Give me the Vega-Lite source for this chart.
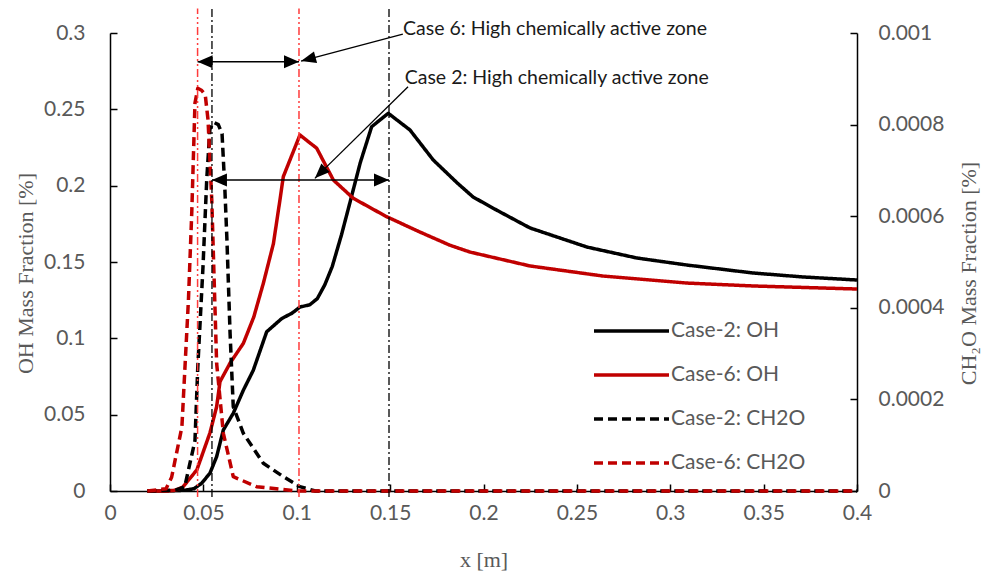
{
  "$schema": "https://vega.github.io/schema/vega-lite/v6.json",
  "width": 747,
  "height": 458,
  "autosize": {"type": "none"},
  "padding": {"left": 110, "top": 33, "right": 125, "bottom": 81},
  "background": "white",
  "datasets": {
    "oh": [
      {"series": "Case-2: OH", "x": 0.02, "y": 0},
      {"series": "Case-2: OH", "x": 0.03, "y": 0},
      {"series": "Case-2: OH", "x": 0.04, "y": 0.0005},
      {"series": "Case-2: OH", "x": 0.045, "y": 0.0015},
      {"series": "Case-2: OH", "x": 0.049, "y": 0.005},
      {"series": "Case-2: OH", "x": 0.0535, "y": 0.0116},
      {"series": "Case-2: OH", "x": 0.0571, "y": 0.0225},
      {"series": "Case-2: OH", "x": 0.0607, "y": 0.04},
      {"series": "Case-2: OH", "x": 0.066, "y": 0.0509},
      {"series": "Case-2: OH", "x": 0.0714, "y": 0.066},
      {"series": "Case-2: OH", "x": 0.0767, "y": 0.079},
      {"series": "Case-2: OH", "x": 0.0839, "y": 0.1043},
      {"series": "Case-2: OH", "x": 0.092, "y": 0.113},
      {"series": "Case-2: OH", "x": 0.0975, "y": 0.1165},
      {"series": "Case-2: OH", "x": 0.1017, "y": 0.1205},
      {"series": "Case-2: OH", "x": 0.107, "y": 0.122},
      {"series": "Case-2: OH", "x": 0.111, "y": 0.126},
      {"series": "Case-2: OH", "x": 0.115, "y": 0.135},
      {"series": "Case-2: OH", "x": 0.119, "y": 0.147},
      {"series": "Case-2: OH", "x": 0.124, "y": 0.168},
      {"series": "Case-2: OH", "x": 0.1285, "y": 0.189},
      {"series": "Case-2: OH", "x": 0.134, "y": 0.215},
      {"series": "Case-2: OH", "x": 0.1401, "y": 0.2386},
      {"series": "Case-2: OH", "x": 0.149, "y": 0.2474},
      {"series": "Case-2: OH", "x": 0.1606, "y": 0.2365},
      {"series": "Case-2: OH", "x": 0.1731, "y": 0.2168},
      {"series": "Case-2: OH", "x": 0.186, "y": 0.2017},
      {"series": "Case-2: OH", "x": 0.1944, "y": 0.1926},
      {"series": "Case-2: OH", "x": 0.207, "y": 0.184},
      {"series": "Case-2: OH", "x": 0.2249, "y": 0.1723},
      {"series": "Case-2: OH", "x": 0.2554, "y": 0.1598},
      {"series": "Case-2: OH", "x": 0.2822, "y": 0.1526},
      {"series": "Case-2: OH", "x": 0.309, "y": 0.148},
      {"series": "Case-2: OH", "x": 0.3443, "y": 0.1428},
      {"series": "Case-2: OH", "x": 0.3711, "y": 0.1402},
      {"series": "Case-2: OH", "x": 0.4, "y": 0.1382},
      {"series": "Case-6: OH", "x": 0.02, "y": 0},
      {"series": "Case-6: OH", "x": 0.03, "y": 0},
      {"series": "Case-6: OH", "x": 0.035, "y": 0.0005},
      {"series": "Case-6: OH", "x": 0.039, "y": 0.0026},
      {"series": "Case-6: OH", "x": 0.0465, "y": 0.0138},
      {"series": "Case-6: OH", "x": 0.0535, "y": 0.038},
      {"series": "Case-6: OH", "x": 0.0571, "y": 0.0552},
      {"series": "Case-6: OH", "x": 0.0589, "y": 0.0716},
      {"series": "Case-6: OH", "x": 0.0643, "y": 0.0838},
      {"series": "Case-6: OH", "x": 0.0714, "y": 0.0967},
      {"series": "Case-6: OH", "x": 0.077, "y": 0.114},
      {"series": "Case-6: OH", "x": 0.0821, "y": 0.136},
      {"series": "Case-6: OH", "x": 0.0875, "y": 0.162},
      {"series": "Case-6: OH", "x": 0.091, "y": 0.1906},
      {"series": "Case-6: OH", "x": 0.0928, "y": 0.2059},
      {"series": "Case-6: OH", "x": 0.1017, "y": 0.2332},
      {"series": "Case-6: OH", "x": 0.1107, "y": 0.2245},
      {"series": "Case-6: OH", "x": 0.1196, "y": 0.2037},
      {"series": "Case-6: OH", "x": 0.1303, "y": 0.1917},
      {"series": "Case-6: OH", "x": 0.1481, "y": 0.1797},
      {"series": "Case-6: OH", "x": 0.166, "y": 0.1696},
      {"series": "Case-6: OH", "x": 0.182, "y": 0.161},
      {"series": "Case-6: OH", "x": 0.1928, "y": 0.1565},
      {"series": "Case-6: OH", "x": 0.2249, "y": 0.1474},
      {"series": "Case-6: OH", "x": 0.264, "y": 0.1408},
      {"series": "Case-6: OH", "x": 0.309, "y": 0.1362},
      {"series": "Case-6: OH", "x": 0.3443, "y": 0.1343},
      {"series": "Case-6: OH", "x": 0.4, "y": 0.1323}
    ],
    "ch2o": [
      {"series": "Case-2: CH2O", "x": 0.02, "y": 0},
      {"series": "Case-2: CH2O", "x": 0.035, "y": 0.000002},
      {"series": "Case-2: CH2O", "x": 0.04, "y": 0.000009},
      {"series": "Case-2: CH2O", "x": 0.0455, "y": 0.00011},
      {"series": "Case-2: CH2O", "x": 0.047, "y": 0.00027},
      {"series": "Case-2: CH2O", "x": 0.0498, "y": 0.00049},
      {"series": "Case-2: CH2O", "x": 0.0518, "y": 0.00068},
      {"series": "Case-2: CH2O", "x": 0.0535, "y": 0.00079},
      {"series": "Case-2: CH2O", "x": 0.0555, "y": 0.000805},
      {"series": "Case-2: CH2O", "x": 0.058, "y": 0.0008},
      {"series": "Case-2: CH2O", "x": 0.06, "y": 0.00078},
      {"series": "Case-2: CH2O", "x": 0.0615, "y": 0.00066},
      {"series": "Case-2: CH2O", "x": 0.0626, "y": 0.00055},
      {"series": "Case-2: CH2O", "x": 0.0643, "y": 0.000344},
      {"series": "Case-2: CH2O", "x": 0.066, "y": 0.000184},
      {"series": "Case-2: CH2O", "x": 0.0714, "y": 0.000126},
      {"series": "Case-2: CH2O", "x": 0.0821, "y": 0.0000605},
      {"series": "Case-2: CH2O", "x": 0.0928, "y": 0.0000313},
      {"series": "Case-2: CH2O", "x": 0.1017, "y": 0.0000095},
      {"series": "Case-2: CH2O", "x": 0.11, "y": 0},
      {"series": "Case-2: CH2O", "x": 0.4, "y": 0},
      {"series": "Case-6: CH2O", "x": 0.02, "y": 0},
      {"series": "Case-6: CH2O", "x": 0.03, "y": 0.000005},
      {"series": "Case-6: CH2O", "x": 0.033, "y": 0.00003},
      {"series": "Case-6: CH2O", "x": 0.0385, "y": 0.00014},
      {"series": "Case-6: CH2O", "x": 0.042, "y": 0.000417},
      {"series": "Case-6: CH2O", "x": 0.0438, "y": 0.00061},
      {"series": "Case-6: CH2O", "x": 0.0455, "y": 0.000847},
      {"series": "Case-6: CH2O", "x": 0.047, "y": 0.000879},
      {"series": "Case-6: CH2O", "x": 0.049, "y": 0.000875},
      {"series": "Case-6: CH2O", "x": 0.051, "y": 0.000865},
      {"series": "Case-6: CH2O", "x": 0.0525, "y": 0.00081},
      {"series": "Case-6: CH2O", "x": 0.0545, "y": 0.000635},
      {"series": "Case-6: CH2O", "x": 0.0571, "y": 0.000279},
      {"series": "Case-6: CH2O", "x": 0.0607, "y": 0.000126},
      {"series": "Case-6: CH2O", "x": 0.066, "y": 0.0000313},
      {"series": "Case-6: CH2O", "x": 0.0785, "y": 0.0000095},
      {"series": "Case-6: CH2O", "x": 0.1, "y": 0},
      {"series": "Case-6: CH2O", "x": 0.4, "y": 0}
    ],
    "vlines": [
      {"case": "Case 6", "x": 0.0469, "y1": -0.004, "y2": 0.316},
      {"case": "Case 6", "x": 0.1012, "y1": -0.004, "y2": 0.316},
      {"case": "Case 2", "x": 0.0546, "y1": -0.004, "y2": 0.316},
      {"case": "Case 2", "x": 0.1494, "y1": -0.004, "y2": 0.316}
    ],
    "harrows": [
      {"case": "Case 6", "x1": 0.0469, "x2": 0.1012, "y": 0.2812},
      {"case": "Case 2", "x1": 0.0546, "x2": 0.1494, "y": 0.2037}
    ],
    "leaders": [
      {"case": "Case 6", "x1": 0.1568, "y1": 0.2993, "x2": 0.1023, "y2": 0.2816},
      {"case": "Case 2", "x1": 0.1596, "y1": 0.2648, "x2": 0.1097, "y2": 0.2048}
    ],
    "notes": [
      {"label": "Case 6: High chemically active zone", "x": 0.1569, "y": 0.2987},
      {"label": "Case 2: High chemically active zone", "x": 0.1578, "y": 0.2666}
    ]
  },
  "layer": [
    {
      "data": {"name": "oh"},
      "mark": {"type": "line", "strokeWidth": 3.5, "strokeCap": "butt", "strokeJoin": "round"},
      "encoding": {
        "x": {
          "field": "x", "type": "quantitative",
          "scale": {"domain": [0, 0.4], "nice": false},
          "axis": {
            "values": [0, 0.05, 0.1, 0.15, 0.2, 0.25, 0.3, 0.35, 0.4],
            "format": "~g", "grid": false, "labelFlush": false, "labelOverlap": false,
            "tickSize": -7, "tickColor": "black", "tickWidth": 1.5,
            "domainColor": "black", "domainWidth": 1.5,
            "labelFont": "Lato", "labelFontSize": 21, "labelColor": "#595959", "labelPadding": 18,
            "title": "x [m]", "titleFont": "Liberation Serif", "titleFontSize": 22,
            "titleFontWeight": "normal", "titleColor": "#595959",
            "titleY": 75, "titleBaseline": "alphabetic"
          }
        },
        "y": {
          "field": "y", "type": "quantitative",
          "scale": {"domain": [0, 0.3], "nice": false},
          "axis": {
            "orient": "left",
            "values": [0, 0.05, 0.1, 0.15, 0.2, 0.25, 0.3],
            "format": "~g", "grid": false, "labelOverlap": false,
            "tickSize": -7, "tickColor": "black", "tickWidth": 1.5,
            "domainColor": "black", "domainWidth": 1.5,
            "labelFont": "Lato", "labelFontSize": 21, "labelColor": "#595959", "labelPadding": 32,
            "title": "OH Mass Fraction [%]", "titleFont": "Liberation Serif", "titleFontSize": 22,
            "titleFontWeight": "normal", "titleColor": "#595959",
            "titleX": -85, "titleY": 240, "titleAngle": -90, "titleBaseline": "middle", "titleAlign": "center"
          }
        },
        "color": {
          "field": "series", "type": "nominal",
          "scale": {
            "domain": ["Case-2: OH", "Case-6: OH", "Case-2: CH2O", "Case-6: CH2O"],
            "range": ["#000000", "#c00000", "#000000", "#c00000"]
          },
          "legend": {
            "orient": "none", "legendX": 482, "legendY": 286, "title": null,
            "symbolType": "stroke", "symbolSize": 5625, "symbolStrokeWidth": 3.5,
            "labelFont": "Lato", "labelFontSize": 21, "labelColor": "#595959",
            "labelOffset": 0, "clipHeight": 24, "rowPadding": 20
          }
        },
        "strokeDash": {
          "field": "series", "type": "nominal",
          "scale": {
            "domain": ["Case-2: OH", "Case-6: OH", "Case-2: CH2O", "Case-6: CH2O"],
            "range": [[1, 0], [1, 0], [9, 5], [9, 5]]
          },
          "legend": {
            "orient": "none", "legendX": 482, "legendY": 286, "title": null,
            "symbolType": "stroke", "symbolSize": 5625, "symbolStrokeWidth": 3.5,
            "labelFont": "Lato", "labelFontSize": 21, "labelColor": "#595959",
            "labelOffset": 0, "clipHeight": 24, "rowPadding": 20
          }
        }
      }
    },
    {
      "data": {"name": "ch2o"},
      "mark": {"type": "line", "strokeWidth": 3.5, "strokeCap": "butt", "strokeJoin": "round"},
      "encoding": {
        "x": {"field": "x", "type": "quantitative", "scale": {"domain": [0, 0.4], "nice": false}},
        "y": {
          "field": "y", "type": "quantitative",
          "scale": {"domain": [0, 0.001], "nice": false},
          "axis": {
            "orient": "right",
            "values": [0, 0.0002, 0.0004, 0.0006, 0.0008, 0.001],
            "format": "~g", "grid": false, "labelOverlap": false,
            "tickSize": -7, "tickColor": "black", "tickWidth": 1.5,
            "domainColor": "black", "domainWidth": 1.5,
            "labelFont": "Lato", "labelFontSize": 21, "labelColor": "#595959", "labelPadding": 28,
            "title": "CH₂O Mass Fraction [%]", "titleFont": "Liberation Serif", "titleFontSize": 22,
            "titleFontWeight": "normal", "titleColor": "#595959",
            "titleX": 111, "titleY": 240, "titleAngle": -90, "titleBaseline": "middle", "titleAlign": "center"
          }
        },
        "color": {"field": "series", "type": "nominal"},
        "strokeDash": {"field": "series", "type": "nominal"}
      }
    },
    {
      "layer": [
        {
          "data": {"name": "vlines"},
          "transform": [{"filter": "datum.case === 'Case 6'"}],
          "mark": {"type": "rule", "color": "#ff3c3c", "strokeWidth": 1.5, "strokeDash": [8, 3, 2, 3, 2, 3]},
          "encoding": {
            "x": {"field": "x", "type": "quantitative", "scale": {"domain": [0, 0.4], "nice": false}},
            "y": {"field": "y1", "type": "quantitative", "scale": {"domain": [0, 0.3], "nice": false}, "axis": null},
            "y2": {"field": "y2"}
          }
        },
        {
          "data": {"name": "vlines"},
          "transform": [{"filter": "datum.case === 'Case 2'"}],
          "mark": {"type": "rule", "color": "#000000", "strokeWidth": 1.3, "strokeDash": [8, 3, 2, 3]},
          "encoding": {
            "x": {"field": "x", "type": "quantitative"},
            "y": {"field": "y1", "type": "quantitative", "axis": null},
            "y2": {"field": "y2"}
          }
        },
        {
          "data": {"name": "harrows"},
          "mark": {"type": "rule", "color": "#000000", "strokeWidth": 1.5},
          "encoding": {
            "x": {"field": "x1", "type": "quantitative"},
            "x2": {"field": "x2"},
            "y": {"field": "y", "type": "quantitative", "axis": null}
          }
        },
        {
          "data": {"name": "harrows"},
          "mark": {"type": "point", "shape": "M0,0L3,-1.3L3,1.3Z", "filled": true, "size": 100, "color": "#000000", "opacity": 1, "strokeWidth": 0},
          "encoding": {
            "x": {"field": "x1", "type": "quantitative"},
            "y": {"field": "y", "type": "quantitative", "axis": null}
          }
        },
        {
          "data": {"name": "harrows"},
          "mark": {"type": "point", "shape": "M0,0L-3,-1.3L-3,1.3Z", "filled": true, "size": 100, "color": "#000000", "opacity": 1, "strokeWidth": 0},
          "encoding": {
            "x": {"field": "x2", "type": "quantitative"},
            "y": {"field": "y", "type": "quantitative", "axis": null}
          }
        },
        {
          "data": {"name": "leaders"},
          "mark": {"type": "rule", "color": "#000000", "strokeWidth": 1.3},
          "encoding": {
            "x": {"field": "x1", "type": "quantitative"},
            "y": {"field": "y1", "type": "quantitative", "axis": null},
            "x2": {"field": "x2"},
            "y2": {"field": "y2"}
          }
        },
        {
          "data": {"name": "leaders"},
          "transform": [{"filter": "datum.case === 'Case 6'"}],
          "mark": {"type": "point", "shape": "M0,0L-1.2,3L1.2,3Z", "filled": true, "size": 100, "color": "#000000", "opacity": 1, "strokeWidth": 0, "angle": 255},
          "encoding": {
            "x": {"field": "x2", "type": "quantitative"},
            "y": {"field": "y2", "type": "quantitative", "axis": null}
          }
        },
        {
          "data": {"name": "leaders"},
          "transform": [{"filter": "datum.case === 'Case 2'"}],
          "mark": {"type": "point", "shape": "M0,0L-1.2,3L1.2,3Z", "filled": true, "size": 100, "color": "#000000", "opacity": 1, "strokeWidth": 0, "angle": 225.5},
          "encoding": {
            "x": {"field": "x2", "type": "quantitative"},
            "y": {"field": "y2", "type": "quantitative", "axis": null}
          }
        },
        {
          "data": {"name": "notes"},
          "mark": {"type": "text", "align": "left", "baseline": "alphabetic", "font": "Lato", "fontSize": 19.5, "color": "#1a1a1a"},
          "encoding": {
            "x": {"field": "x", "type": "quantitative"},
            "y": {"field": "y", "type": "quantitative", "axis": null},
            "text": {"field": "label"}
          }
        }
      ]
    }
  ],
  "resolve": {"scale": {"y": "independent"}},
  "config": {
    "view": {"stroke": null},
    "font": "Lato"
  }
}
